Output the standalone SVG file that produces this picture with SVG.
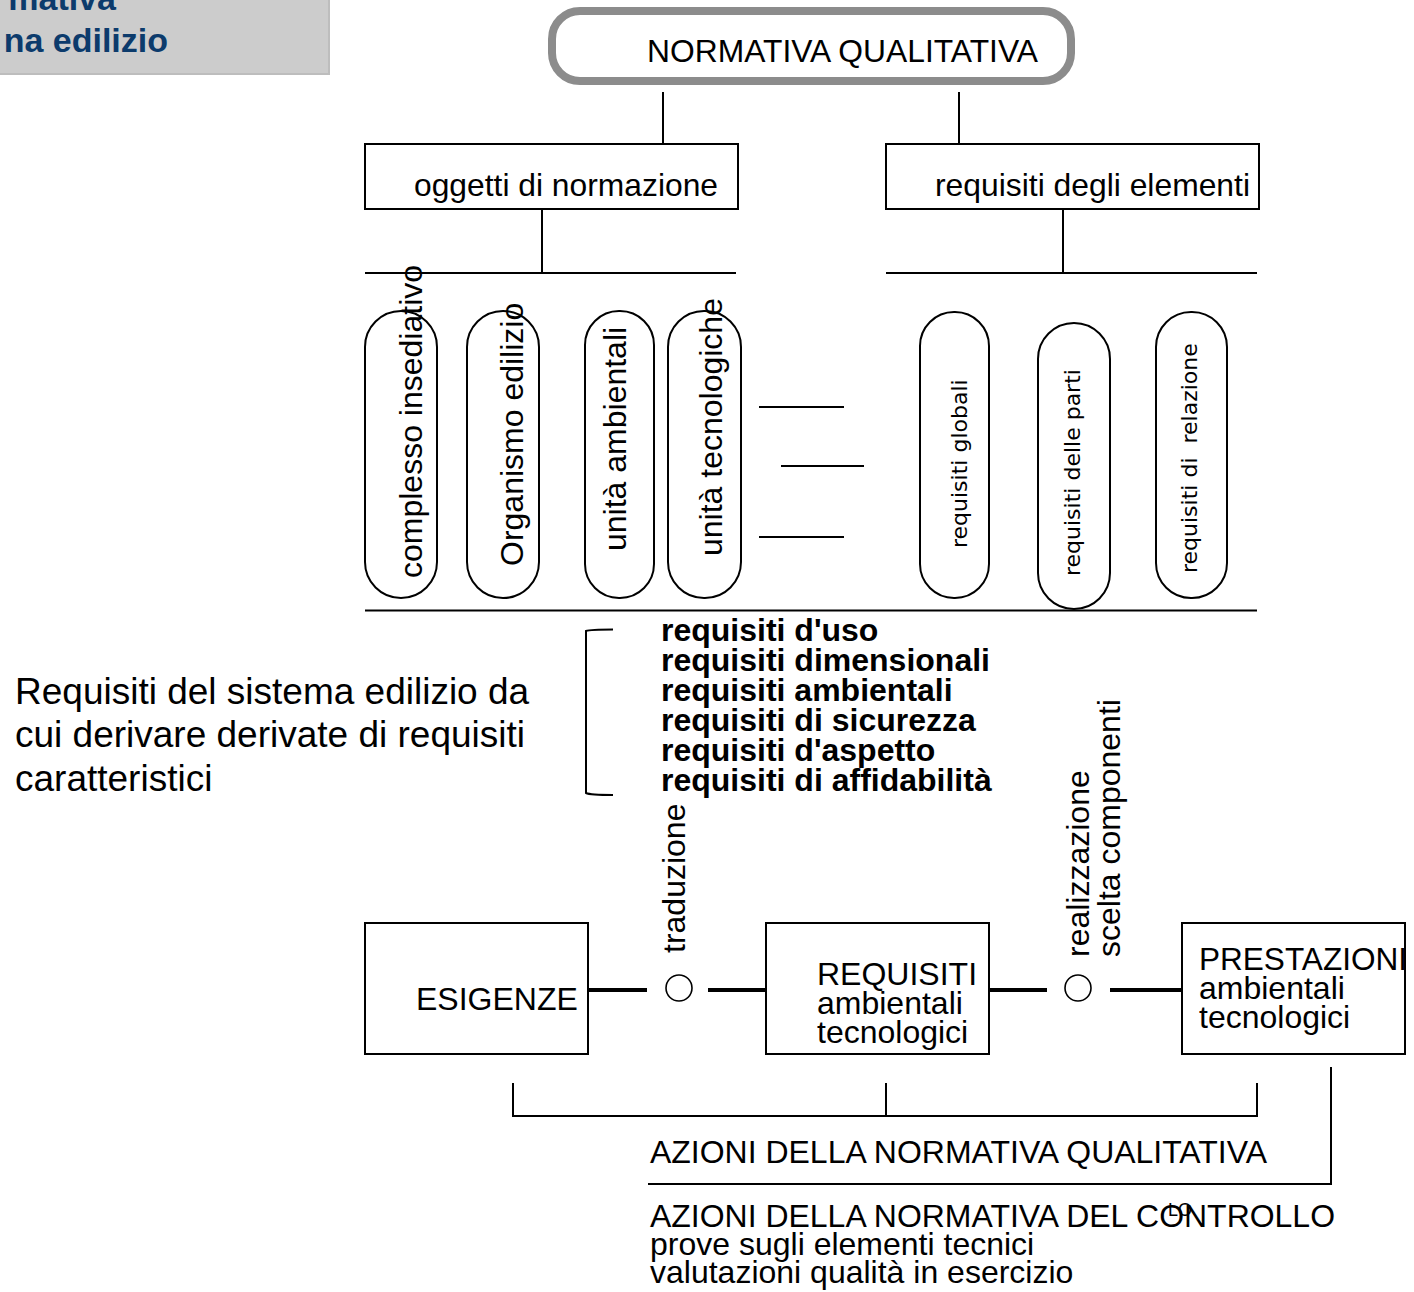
<svg xmlns="http://www.w3.org/2000/svg" width="1414" height="1292" viewBox="0 0 1414 1292">
<style>
text{font-family:"Liberation Sans",Arial,sans-serif;fill:#000}
.t32{font-size:32px}
.t31{font-size:31px}
.b32{font-size:32px;font-weight:bold}
.dv{font-family:"DejaVu Sans",sans-serif;font-size:22px}
.hd{font-size:34px;font-weight:bold;fill:#0c3b6c}
.box{fill:#fff;stroke:#000;stroke-width:2}
.pill{fill:#fff;stroke:#000;stroke-width:2}
.ln{stroke:#000;stroke-width:2;fill:none}
.thick{stroke:#000;stroke-width:4;fill:none}
.circ{fill:#fff;stroke:#000;stroke-width:1.6}
</style>
<rect width="1414" height="1292" fill="#fff"/>

<g id="header">
<rect x="-2" y="-2" width="331" height="76" fill="#cccccc" stroke="#bdbdbd" stroke-width="2"/>
<text class="hd" x="116" y="10" text-anchor="end">mativa</text>
<text class="hd" x="168" y="52" text-anchor="end">na edilizio</text>
</g>

<g id="connectors">
<line class="ln" x1="663" y1="92" x2="663" y2="144"/>
<line class="ln" x1="959" y1="92" x2="959" y2="144"/>
<line class="ln" x1="542" y1="209" x2="542" y2="273"/>
<line class="ln" x1="1063" y1="209" x2="1063" y2="273"/>
<line class="ln" x1="365" y1="273" x2="736" y2="273"/>
<line class="ln" x1="886" y1="273" x2="1257" y2="273"/>
<line class="ln" x1="759" y1="407" x2="844" y2="407"/>
<line class="ln" x1="781" y1="466" x2="864" y2="466"/>
<line class="ln" x1="759" y1="537" x2="844" y2="537"/>
<line class="ln" x1="365" y1="610.5" x2="1257" y2="610.5" stroke-width="2.5"/>
<path class="ln" d="M613,629.5 Q590,629.5 586,631 L586,793 Q590,795 613,795" stroke-width="1.6"/>
<line class="thick" x1="588" y1="990" x2="647" y2="990"/>
<line class="thick" x1="708" y1="990" x2="765" y2="990"/>
<line class="thick" x1="989" y1="990" x2="1047" y2="990"/>
<line class="thick" x1="1110" y1="990" x2="1182" y2="990"/>
<circle class="circ" cx="679" cy="988" r="13"/>
<circle class="circ" cx="1078" cy="988" r="13"/>
<line class="ln" x1="513" y1="1083" x2="513" y2="1117" stroke-width="3"/>
<line class="ln" x1="512" y1="1116" x2="1258" y2="1116"/>
<line class="ln" x1="886" y1="1083" x2="886" y2="1116" stroke-width="3"/>
<line class="ln" x1="1257" y1="1083" x2="1257" y2="1117" stroke-width="4"/>
<line class="ln" x1="1331" y1="1067" x2="1331" y2="1185" stroke-width="3.5"/>
<line class="ln" x1="648" y1="1184" x2="1332" y2="1184"/>
</g>

<g id="normativa-qualitativa">
<rect x="552" y="11" width="519" height="70" rx="28" ry="28" fill="#fff" stroke="#8c8c8c" stroke-width="8"/>
<text class="t31" x="647" y="62" textLength="391" lengthAdjust="spacingAndGlyphs">NORMATIVA QUALITATIVA</text>
</g>

<g id="oggetti">
<rect class="box" x="365" y="144" width="373" height="65"/>
<text class="t32" x="414" y="196" textLength="304" lengthAdjust="spacingAndGlyphs">oggetti di normazione</text>
</g>
<g id="requisiti-elementi">
<rect class="box" x="886" y="144" width="373" height="65"/>
<text class="t32" x="935" y="196" textLength="315" lengthAdjust="spacingAndGlyphs">requisiti degli elementi</text>
</g>

<g id="complesso">
<rect class="pill" x="365" y="311" width="72" height="287" rx="36" ry="36"/>
<text class="t32" transform="translate(422,578) rotate(-90)">complesso insediativo</text>
</g>
<g id="organismo">
<rect class="pill" x="467" y="311" width="72" height="287" rx="36" ry="36"/>
<text class="t32" transform="translate(523,566) rotate(-90)">Organismo edilizio</text>
</g>
<g id="unita-ambientali">
<rect class="pill" x="585" y="311" width="69" height="287" rx="34" ry="34"/>
<text class="t32" transform="translate(626,551) rotate(-90)">unità ambientali</text>
</g>
<g id="unita-tecnologiche">
<rect class="pill" x="668" y="311" width="73" height="287" rx="36" ry="36"/>
<text class="t32" transform="translate(722,556) rotate(-90)">unità tecnologiche</text>
</g>

<g id="requisiti-globali">
<rect class="pill" x="920" y="312" width="69" height="286" rx="34" ry="34"/>
<text class="dv" transform="translate(967,548) rotate(-90)">requisiti globali</text>
</g>
<g id="requisiti-parti">
<rect class="pill" x="1038" y="323" width="72" height="286" rx="36" ry="36"/>
<text class="dv" transform="translate(1080,576) rotate(-90)">requisiti delle parti</text>
</g>
<g id="requisiti-relazione">
<rect class="pill" x="1156" y="312" width="71" height="286" rx="35" ry="35"/>
<text class="dv" transform="translate(1197,573) rotate(-90)" style="white-space:pre">requisiti di  relazione</text>
</g>

<g id="elenco-requisiti">
<text class="b32" x="661" y="641">requisiti d'uso</text>
<text class="b32" x="661" y="671">requisiti dimensionali</text>
<text class="b32" x="661" y="701">requisiti ambientali</text>
<text class="b32" x="661" y="731">requisiti di sicurezza</text>
<text class="b32" x="661" y="761">requisiti d'aspetto</text>
<text class="b32" x="661" y="791">requisiti di affidabilità</text>
</g>

<g id="nota-sistema">
<text style="font-size:37px" x="15" y="704">Requisiti del sistema edilizio da</text>
<text style="font-size:37px" x="15" y="747">cui derivare derivate di requisiti</text>
<text style="font-size:37px" x="15" y="791">caratteristici</text>
</g>

<g id="esigenze">
<rect class="box" x="365" y="923" width="223" height="131"/>
<text class="t32" x="416" y="1010">ESIGENZE</text>
</g>
<g id="traduzione">
<text class="t32" transform="translate(685,953) rotate(-90)">traduzione</text>
</g>
<g id="requisiti-box">
<rect class="box" x="766" y="923" width="223" height="131"/>
<text class="t32" x="817" y="985">REQUISITI</text>
<text class="t32" x="817" y="1014">ambientali</text>
<text class="t32" x="817" y="1043">tecnologici</text>
</g>
<g id="realizzazione">
<text class="t32" transform="translate(1089,957) rotate(-90)">realizzazione</text>
<text class="t32" transform="translate(1120,957) rotate(-90)">scelta componenti</text>
</g>
<g id="prestazioni">
<rect class="box" x="1182" y="923" width="223" height="131"/>
<text class="t32" x="1199" y="970" textLength="208" lengthAdjust="spacingAndGlyphs">PRESTAZIONI</text>
<text class="t32" x="1199" y="999">ambientali</text>
<text class="t32" x="1199" y="1028">tecnologici</text>
</g>

<g id="azioni-qualitativa">
<text class="t31" x="650" y="1163" textLength="617" lengthAdjust="spacingAndGlyphs">AZIONI DELLA NORMATIVA QUALITATIVA</text>
</g>
<g id="azioni-controllo">
<text class="t31" x="650" y="1227" textLength="685" lengthAdjust="spacingAndGlyphs">AZIONI DELLA NORMATIVA DEL CONTROLLO</text>
<text style="font-size:18px" x="1168" y="1216">LO</text>
<text class="t32" x="650" y="1255">prove sugli elementi tecnici</text>
<text class="t32" x="650" y="1283">valutazioni qualità in esercizio</text>
</g>
</svg>
